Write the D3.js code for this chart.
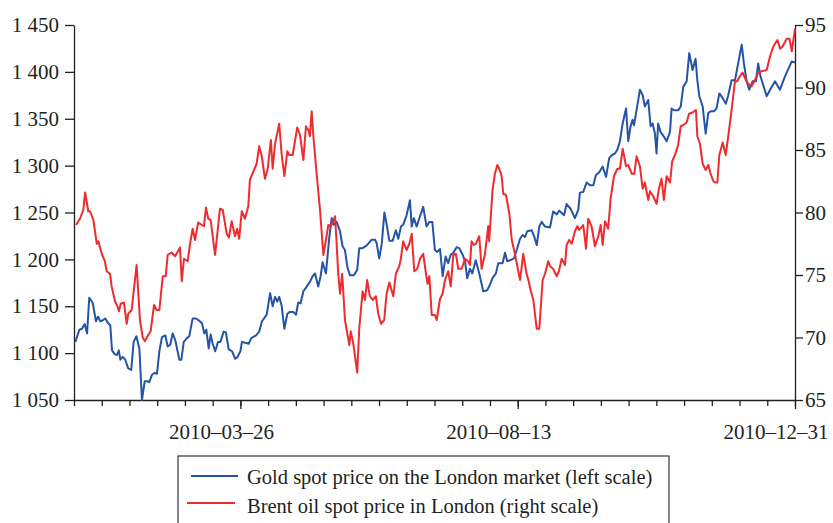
<!DOCTYPE html>
<html lang="en">

<head>
    <meta charset="UTF-8">
    <script src="https://cdn.jsdelivr.net/npm/d3@7/dist/d3.min.js" charset="utf-8"></script>
    <title>Gold and Brent oil, 2010</title>
    <style>
        body { margin: 0; background: #fff; }
        text { font-family: "Liberation Serif", "Times New Roman", serif; fill: #231f20; }
    </style>
</head>

<body>
    <script>
        // day offsets from 2010-01-01 and the prices read at those days
        var goldDays = [0.7, 2.7, 4, 5.4, 6.6, 7.7, 9.4, 11.1, 12.1, 13.3, 14.5, 15.8, 17.2, 18.3, 19.2, 20.5, 21.7, 22.6, 23.4, 24.6,
            25.9, 27.3, 28.9, 30.1, 31.5, 33, 34.3, 35.7, 36.9, 38, 39.4, 40.7, 41.9, 43.1, 44.4, 46.1, 47.3, 48.6, 49.8, 51.1,
            53.2, 54.2, 55.4, 57, 58.2, 59.9, 61.6, 62.9, 64.6, 65.8, 66.8, 68, 69, 70, 71.3, 72.7, 73.9, 75.6, 76.7, 78.1,
            79.8, 81.4, 82.6, 84, 84.8, 86.5, 88.2, 89.5, 91.9, 93.5, 94.9, 97.3, 99, 100.3, 101.5, 102.6, 103.6, 104.8, 106.2, 107.7,
            109, 110.7, 112.1, 113.2, 114.4, 115.8, 117.5, 119.1, 120.5, 121.7, 123.3, 124.5, 125.5, 127.2, 128.9, 130.1, 131.2, 132.6, 134.3, 135.6,
            136.8, 138, 139.3, 141.3, 143, 144, 145.7, 147.8, 150.3, 152, 152.8, 154.1, 155.4, 156.7, 157.8, 159.2, 160.9, 162.5, 163.7, 165.1,
            166.2, 167.9, 169.6, 170.5, 171.6, 173, 174.7, 176.3, 178, 179.4, 180.9, 182.2, 183.4, 184.8, 186.1, 187.6, 188.9, 190.2, 191.5, 193.2,
            194.5, 196.2, 197.4, 198.5, 199.9, 201.1, 202.8, 204.6, 206.6, 208.6, 210, 211.3, 213, 214.2, 216.4, 217.6, 218.7, 220.1, 222.1, 223.5,
            225.2, 226.5, 227.7, 228.8, 231.1, 232.4, 233.6, 234.9, 236.1, 237.8, 240.3, 241.9, 243.7, 245, 247.4, 248.7, 250.7, 252.9, 254.6, 255.4,
            257.1, 258.8, 260.5, 262.2, 263.5, 265.2, 266.9, 268.6, 270.2, 271.4, 273.1, 274.3, 275.6, 277, 278.7, 279.8, 281, 282, 282.7, 284,
            285.7, 287.1, 288.2, 289.9, 291.1, 292.1, 293.3, 294.1, 294.9, 296.1, 297.8, 299.2, 300.9, 301.7, 302.9, 305, 306.3, 307.6, 309.3, 310.6,
            312.3, 313.8, 314.7, 315.7, 317.4, 318.9, 320.2, 321.4, 323.1, 324.4, 325.8, 327.5, 329.1, 330.3, 332, 333.7, 335.3, 337.1, 338.2, 339.6,
            340.9, 342.6, 344.3, 345.4, 346.6, 349.7, 351.7, 353.9, 356.4, 358.9, 362.3, 364];
        var goldPrice = [1112, 1125, 1126, 1131, 1121, 1159, 1154, 1134, 1139, 1134, 1135, 1137, 1132, 1130, 1103, 1099, 1098, 1103, 1093, 1096,
            1093, 1084, 1082, 1112, 1118, 1105, 1050, 1070, 1070, 1069, 1077, 1079, 1078, 1102, 1117, 1119, 1107, 1109, 1121, 1114,
            1093, 1093, 1112, 1116, 1118, 1137, 1137, 1135, 1132, 1121, 1125, 1105, 1120, 1110, 1102, 1112, 1112, 1123, 1122, 1104,
            1102, 1094, 1096, 1102, 1112, 1111, 1110, 1116, 1119, 1123, 1134, 1141, 1164, 1150, 1160, 1155, 1160, 1151, 1126, 1142,
            1144, 1144, 1141, 1154, 1153, 1166, 1171, 1176, 1182, 1185, 1171, 1182, 1197, 1185, 1224, 1244, 1237, 1240, 1230, 1214,
            1210, 1192, 1183, 1183, 1189, 1212, 1212, 1215, 1221, 1221, 1217, 1201, 1217, 1250, 1238, 1220, 1220, 1231, 1222, 1235,
            1237, 1247, 1263, 1235, 1244, 1235, 1246, 1256, 1235, 1240, 1240, 1210, 1208, 1211, 1182, 1203, 1196, 1205, 1207, 1213,
            1212, 1205, 1198, 1180, 1190, 1185, 1199, 1185, 1166, 1167, 1173, 1180, 1185, 1196, 1196, 1207, 1198, 1199, 1201, 1210,
            1222, 1226, 1224, 1230, 1231, 1224, 1215, 1235, 1240, 1235, 1234, 1251, 1248, 1252, 1247, 1259, 1254, 1244, 1253, 1271,
            1272, 1282, 1279, 1279, 1290, 1293, 1299, 1288, 1308, 1311, 1313, 1317, 1326, 1345, 1361, 1326, 1342, 1349, 1343, 1359,
            1381, 1375, 1363, 1370, 1342, 1345, 1334, 1313, 1345, 1336, 1331, 1326, 1336, 1361, 1359, 1359, 1363, 1384, 1390, 1420,
            1402, 1414, 1391, 1374, 1363, 1334, 1356, 1358, 1358, 1361, 1377, 1372, 1366, 1375, 1391, 1391, 1409, 1429, 1409, 1390,
            1381, 1390, 1390, 1409, 1395, 1374, 1382, 1390, 1381, 1395, 1411, 1410];

        var oilDays = [1, 3, 4.7, 5.6, 7.2, 8.1, 9.8, 11.5, 12.3, 14, 15.6, 16.5, 18.2, 19, 20.7, 21.9, 22.7, 23.6, 25.2, 26.6,
            27.4, 29.1, 31.6, 33.3, 34.7, 35.8, 37.5, 38.7, 40.4, 41.7, 43.1, 44.8, 46.3, 47.3, 49.3, 51, 51.8, 53.5, 54.4, 55.5,
            57.4, 58.6, 59.9, 61.1, 62.7, 65.6, 66.6, 67.8, 69, 71.2, 73.7, 75.1, 77.1, 78.2, 79.6, 81.3, 82.4, 83.4, 84.7, 86.3,
            88, 88.8, 92.2, 93.5, 94.8, 96.4, 97.8, 99.4, 100.3, 101.5, 103.6, 104.8, 106.2, 107.7, 108.7, 110.4, 112.7, 114.1, 115.8, 117.1,
            118.3, 119.1, 120, 120.8, 122.5, 124.2, 125.9, 127.2, 128.4, 129.6, 130.9, 131.8, 132.6, 133.4, 134.3, 135.4, 136.8, 138, 139, 139.7,
            141, 143, 144, 145.7, 146.9, 148, 149.4, 150.8, 152.4, 153.6, 155, 156.6, 157.8, 159.2, 161.2, 162.5, 164.2, 164.9, 166.2, 167.9,
            169.3, 170.5, 171.8, 173.3, 174.7, 176.3, 177.7, 178.5, 179.4, 180.6, 182.2, 183.1, 184.8, 186.1, 187.3, 188.9, 190.2, 191.5, 192.8, 194,
            195.7, 197.4, 199, 199.9, 200.7, 201.9, 202.9, 204.6, 205.8, 207.5, 209.1, 209.6, 211.3, 212.5, 213.7, 214.7, 215.9, 216.7, 218.1, 219.8,
            221, 222.6, 223.8, 225.2, 226.8, 228.5, 229.4, 230.5, 231.9, 233.6, 234.9, 236.6, 237.8, 239.4, 240.3, 241.9, 243.7, 244.8, 246.2, 247.9,
            248.7, 250, 251.3, 252.9, 254.1, 255.1, 257.1, 258.5, 259.6, 261.3, 263, 264.7, 265.9, 266.9, 268.1, 269.7, 270.9, 272.6, 274.3, 275.6,
            277, 278.7, 279.8, 281.6, 282.9, 284, 285.7, 287.1, 288.2, 289.9, 290.8, 292.4, 294.1, 295.3, 296.6, 297.8, 299.2, 300.9, 302, 303.4,
            305, 306.3, 307.6, 309.3, 310.5, 312.3, 314, 314.7, 316, 317.4, 318.9, 320.2, 321.4, 322.8, 323.6, 324.8, 325.8, 327.5, 329, 330.3,
            332, 333.7, 334.8, 336.2, 337.5, 339.2, 340.4, 342.1, 343.8, 345.4, 347.2, 349.7, 351.4, 353.1, 355.1, 356.5, 357.8, 359.8, 361.2, 362.4,
            364];
        var oilPrice = [79.0, 79.5, 80.2, 81.6, 80.1, 80.1, 79.4, 77.5, 77.7, 76.7, 76.1, 75.3, 75.1, 74.1, 72.9, 72.5, 72.1, 72.7, 72.8, 71.1,
            71.9, 72.2, 75.8, 71.4, 70.0, 69.7, 70.2, 70.5, 72.6, 72.2, 72.2, 74.9, 74.9, 76.6, 76.8, 76.5, 76.7, 77.2, 74.5, 76.3,
            76.1, 77.5, 78.7, 77.8, 79.2, 78.9, 80.4, 79.5, 79.4, 76.6, 80.3, 80.2, 78.3, 78.0, 79.3, 78.1, 78.7, 77.9, 80.1, 79.5,
            80.5, 82.6, 83.9, 85.3, 84.5, 82.7, 83.5, 85.8, 83.5, 85.5, 87.1, 84.7, 82.9, 84.9, 84.6, 84.6, 86.8, 86.2, 84.2, 86.9,
            86.6, 86.1, 88.1, 86.2, 83.1, 80.2, 76.6, 77.8, 79.0, 78.9, 79.3, 79.7, 77.5, 75.1, 73.5, 75.1, 71.4, 70.3, 69.4, 70.5,
            69.5, 67.2, 70.7, 73.7, 73.0, 74.6, 73.3, 73.0, 73.3, 71.9, 71.1, 71.4, 73.5, 74.4, 73.3, 75.1, 75.7, 76.2, 77.7, 77.0,
            77.5, 78.3, 75.3, 75.5, 76.3, 76.7, 75.1, 74.3, 74.9, 71.8, 71.8, 71.4, 73.1, 73.5, 74.6, 75.3, 74.1, 76.6, 76.7, 75.5,
            75.5, 76.3, 76.1, 75.8, 77.7, 77.4, 77.5, 78.1, 75.5, 76.7, 78.9, 77.7, 81.8, 83.1, 83.8, 83.5, 82.9, 81.5, 81.4, 79.9,
            77.8, 76.7, 75.7, 74.6, 76.7, 75.1, 74.6, 73.8, 73.0, 70.7, 70.7, 74.6, 75.1, 76.1, 75.7, 75.5, 74.9, 75.3, 76.3, 75.8,
            77.4, 77.8, 77.5, 78.5, 78.9, 78.6, 79.0, 77.1, 79.5, 78.9, 77.3, 78.1, 79.0, 77.4, 79.3, 78.7, 81.1, 82.9, 83.5, 83.5,
            85.1, 83.7, 83.8, 83.1, 83.1, 84.5, 83.7, 81.9, 82.4, 81.0, 81.7, 81.3, 80.7, 81.9, 82.7, 81.0, 82.9, 82.4, 84.1, 84.6,
            85.4, 86.9, 87.0, 87.2, 87.9, 88.0, 88.2, 86.1, 85.5, 83.9, 83.4, 83.8, 83.1, 82.5, 82.4, 82.4, 84.6, 85.6, 84.6, 86.1,
            88.2, 90.5, 90.5, 90.9, 91.2, 90.6, 90.3, 90.1, 90.6, 91.2, 91.3, 91.4, 92.5, 93.3, 93.8, 93.1, 93.3, 93.9, 93.9, 92.9,
            94.7];

        var goldTicks = [1050, 1100, 1150, 1200, 1250, 1300, 1350, 1400, 1450];
        var oilTicks = [65, 70, 75, 80, 85, 90, 95];
        var dateLabels = ["2010-03-26", "2010-08-13", "2010-12-31"];
        var legendLabels = ["Gold spot price on the London market (left scale)", "Brent oil spot price in London (right scale)"];

        var width = 833;
        var height = 523;
        var plotLeft = 74, plotRight = 795, plotTop = 25, plotBottom = 400;
        var blue = "#2554a6", red = "#ee2b2f", ink = "#231f20";

        var start = new Date(2010, 0, 1);
        function dayToDate(d) { return new Date(start.getTime() + d * 864e5); }

        var x = d3.scaleTime().domain([start, new Date(2010, 11, 31)]).range([plotLeft, plotRight]);
        var yGold = d3.scaleLinear().domain([1050, 1450]).range([plotBottom, plotTop]);
        var yOil = d3.scaleLinear().domain([65, 95]).range([plotBottom, plotTop]);

        var spaced = d3.formatLocale({ decimal: ".", thousands: " ", grouping: [3], currency: ["", ""] }).format(",");

        var svg = d3.select("body").append("svg").attr("width", width).attr("height", height);

        // minor ticks every two weeks, long ticks under the labelled dates
        var minorTicks = d3.range(0, 365, 14).map(dayToDate);
        var majorTicks = dateLabels.map(function (s) { return d3.timeParse("%Y-%m-%d")(s); });

        svg.append("g").attr("transform", "translate(0," + plotBottom + ")")
            .call(d3.axisBottom(x).tickValues(minorTicks).tickSize(6).tickSizeOuter(0).tickFormat(""));
        svg.append("g").attr("transform", "translate(0," + plotBottom + ")")
            .call(d3.axisBottom(x).tickValues(majorTicks).tickSize(9).tickSizeOuter(0).tickFormat(""))
            .select(".domain").remove();

        svg.selectAll(".xlabel").data(majorTicks).enter().append("text")
            .attr("class", "xlabel")
            .attr("x", function (d) { return x(d) - 19; })
            .attr("y", 439)
            .attr("text-anchor", "middle")
            .style("font-size", "21px")
            .text(function (d, i) { return dateLabels[i].replace(/-/g, "\u2013"); });

        var gAxis = svg.append("g").attr("transform", "translate(" + plotLeft + ",0)")
            .call(d3.axisLeft(yGold).tickValues(goldTicks).tickSize(9).tickSizeOuter(0).tickPadding(6).tickFormat(spaced));
        var oAxis = svg.append("g").attr("transform", "translate(" + plotRight + ",0)")
            .call(d3.axisRight(yOil).tickValues(oilTicks).tickSize(8).tickSizeOuter(0).tickPadding(2));

        svg.selectAll(".domain, .tick line").attr("stroke", ink).attr("stroke-width", 1.3);
        [gAxis, oAxis].forEach(function (g) {
            g.selectAll("text").style("font-size", "21px").style("font-family", "Liberation Serif, serif").attr("fill", ink);
        });

        var goldLine = d3.line()
            .x(function (d, i) { return x(dayToDate(goldDays[i])); })
            .y(function (d) { return yGold(d); });
        var oilLine = d3.line()
            .x(function (d, i) { return x(dayToDate(oilDays[i])); })
            .y(function (d) { return yOil(d); });

        svg.append("path").attr("d", goldLine(goldPrice)).attr("fill", "none")
            .attr("stroke", blue).attr("stroke-width", 2).attr("stroke-linejoin", "round");
        svg.append("path").attr("d", oilLine(oilPrice)).attr("fill", "none")
            .attr("stroke", red).attr("stroke-width", 2).attr("stroke-linejoin", "round");

        // legend box, its bottom edge runs off the picture
        var legend = svg.append("g");
        legend.append("rect").attr("x", 178).attr("y", 456).attr("width", 491).attr("height", 80)
            .attr("fill", "none").attr("stroke", "#444").attr("stroke-width", 1.3);
        legend.append("line").attr("x1", 191).attr("x2", 238).attr("y1", 476).attr("y2", 476)
            .attr("stroke", blue).attr("stroke-width", 2);
        legend.append("line").attr("x1", 187).attr("x2", 235).attr("y1", 503).attr("y2", 503)
            .attr("stroke", red).attr("stroke-width", 2);
        legend.selectAll("text").data(legendLabels).enter().append("text")
            .attr("x", 247)
            .attr("y", function (d, i) { return i == 0 ? 483.5 : 513; })
            .style("font-size", "20.5px")
            .text(function (d) { return d; });
    </script>
</body>

</html>
